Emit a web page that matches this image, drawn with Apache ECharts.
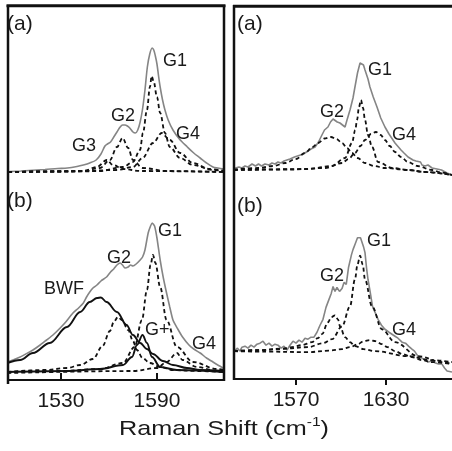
<!DOCTYPE html>
<html><head><meta charset="utf-8">
<script src="https://cdn.jsdelivr.net/npm/echarts@6/dist/echarts.min.js"></script>
<style>html,body{margin:0;padding:0;background:#fff}#c{width:452px;height:451px}</style>
</head><body><div id="c"></div>
<script>
// ---------- tick labels ----------
var leftTicks = [1530, 1590];
var rightTicks = [1570, 1630];
var axisTitle = 'Raman Shift (cm';

// ---------- Left panel (a) ----------
var La_meas = [[1498,0.5],[1505,1],[1510,1.5],[1515,2],[1520,2.5],[1528,3.5],[1534,4],[1540,5.5],[1544,7],[1548,9],[1552,12],[1555,18],[1557.5,26],[1559,28],[1561,30],[1563,35],[1565,40],[1567,45],[1568.5,47],[1570,47],[1571.5,46],[1573,44],[1575,40],[1576.5,39],[1578,42],[1579.5,50],[1581,63],[1582.5,82],[1584,105],[1585.5,118],[1587,124],[1588,122],[1589,116],[1590,108],[1591,96],[1592,85],[1593.5,72],[1595,62],[1597,52],[1600,42],[1604,33],[1609,25],[1613,19],[1617,14],[1621,9],[1625,5],[1628,4],[1632,3]];
var La_G1 = [[1497,0],[1540,0.5],[1554.4,1],[1568.75,5],[1575,10],[1579.4,22],[1581.25,39],[1583.75,62],[1585.6,85],[1586.7,96],[1588,90],[1590,75],[1592,59],[1595,39],[1598,25],[1604.5,14],[1612.5,7],[1625,2],[1632,1]];
var La_G2 = [[1497,0],[1530,0.5],[1543.75,1],[1554.4,4],[1560.6,12],[1565,25],[1568.5,34],[1572,24],[1575,12],[1581,4],[1596,1],[1632,0]];
var La_G3 = [[1497,0],[1530,0.5],[1543.75,1],[1552.5,5],[1558.7,12],[1562.5,7],[1568.75,3],[1580,1],[1632,0]];
var La_G4 = [[1497,0],[1540,1],[1565,2],[1575,5],[1581,14],[1587.5,29],[1593,39],[1598,32],[1604.5,19],[1612.5,9],[1623,3],[1632,1]];

// ---------- Left panel (b) ----------
var Lb_meas = [[1496.5,11],[1500,13],[1504.5,16],[1508,19],[1512.5,23],[1517,28],[1521,33],[1525,38],[1529.5,45],[1533,51],[1537.5,60],[1541,65],[1544,70],[1546,76],[1548,81],[1550,85],[1552.5,88],[1555,92],[1558.5,96],[1561,101],[1563,104],[1565,108],[1567,110],[1568.5,108],[1570,105],[1572,106],[1573.5,108],[1575,107],[1577,109],[1579.5,113],[1581,116],[1582.5,123],[1584.5,140],[1586,147],[1587,150],[1588.5,147],[1590,135],[1592,113],[1594,95],[1596,80],[1598,66],[1600,53],[1603,44],[1606,36],[1610,28],[1613,24],[1617,20],[1621,15],[1625,11],[1628,8],[1631.5,5]];
var Lb_BWF = [[1496.5,10],[1504.5,13],[1512.5,20],[1523,30],[1533.75,46],[1542,61],[1548,71],[1552.5,75],[1555,75.5],[1558.5,71],[1565,61],[1571,48],[1575,38],[1579.5,30],[1583.75,24],[1587.5,19],[1593.75,12],[1600,8],[1608.75,5],[1617,3],[1631.5,2]];
var Lb_G2 = [[1496.5,1],[1520,3],[1534,5],[1542,8],[1550,14],[1556,27],[1560.6,42],[1563,51],[1565.6,56],[1568,53],[1572,43],[1575,32],[1577.5,23],[1581,15],[1585.6,10],[1592,6],[1600,3],[1615,2],[1631.5,1]];
var Lb_G1 = [[1496.5,1],[1530,2],[1554.4,4],[1568.75,10],[1576,26],[1580.6,53],[1583.75,83],[1586,108],[1587.5,118],[1589,110],[1592,86],[1596,53],[1602.5,26],[1612.5,11],[1627.5,4],[1631.5,3]];
var Lb_Gplus = [[1496.5,1],[1533.75,2],[1554.4,4],[1568.75,8],[1574.4,16],[1577.5,28],[1581,38],[1583.75,30],[1586.9,16],[1592,6],[1602.5,3],[1631.5,1]];
var Lb_G4 = [[1496.5,0],[1575,2],[1590,5],[1596,11],[1602.5,20],[1606,13],[1615,6],[1627.5,2],[1631.5,1]];

// ---------- Right panel (a) ----------
var Ra_meas = [[1529.5,2],[1532,3],[1534,2],[1536,4],[1538,3],[1540.7,6],[1543,4],[1545,6],[1547,4],[1549.3,6],[1552,5],[1554,7],[1556,6],[1558,8],[1560,7],[1562,9],[1564,10],[1566,11],[1567.3,12],[1569,13],[1571,14],[1573,15],[1576,17],[1578,19],[1580,21],[1582.7,23],[1585,28],[1587.3,35],[1589,40],[1591.3,43],[1593,48],[1594.7,51],[1596,50],[1597.5,48],[1599.3,47],[1601,45],[1602.7,43],[1604,50],[1606,60],[1608,72],[1609.3,83],[1611,97],[1612.7,107],[1614,109],[1615,105],[1616,100],[1618,91],[1619.3,83],[1621.5,73],[1624,63],[1626.5,52],[1629.3,43],[1632,36],[1636,27],[1640,20],[1642,17],[1644.7,13],[1646,14],[1648,10],[1650,9],[1651.3,7],[1653,8],[1654,5],[1656,4],[1658,5],[1660.7,2],[1664,1],[1667,0],[1670.7,-3],[1674,-5]];
var Ra_G2 = [[1528.7,0.5],[1544.7,2],[1555,4],[1562.7,7],[1570,11],[1576,17],[1581,23],[1584.7,27],[1589,31.5],[1593.3,33],[1597,31],[1600.7,27],[1604,22],[1607.3,17],[1611,12],[1616,7],[1622,4],[1629.3,2],[1645,0],[1656,-2],[1674,-5]];
var Ra_G1 = [[1528.7,0],[1578,1],[1594,4],[1602.7,12],[1607.3,27],[1609.5,40],[1610.7,50],[1612,63],[1613.3,70],[1614.7,62],[1616,50],[1618,35],[1620.7,23],[1624.7,8],[1634,2],[1645,0],[1656,-2],[1674,-5]];
var Ra_G4 = [[1528.7,0],[1567.3,0.5],[1589.3,2],[1600.7,7],[1605,11],[1609.3,17],[1613,24],[1616,30],[1620,36],[1623.3,38],[1626.5,35],[1629.3,30],[1632.5,24],[1636,18],[1640,13],[1644.7,8],[1651,4],[1660.7,0],[1667,-2.5],[1674,-5]];

// ---------- Right panel (b) ----------
var Rb_meas = [[1529.5,29],[1531,31],[1532.5,28],[1534,32],[1536,33],[1538,31],[1540,34],[1542,32],[1544,35],[1546,36],[1548,38],[1550,34],[1552,36],[1554,33],[1556,35],[1558,34],[1560,31],[1562,33],[1564,29],[1566,34],[1568,38],[1570,36],[1572,39],[1574,37],[1576,41],[1578,40],[1580,42],[1582,42],[1584,47],[1586,54],[1588,60],[1590,72],[1592,80],[1593.5,86],[1594.7,93],[1596,88],[1597.3,92],[1599,88],[1600.7,91],[1602,97],[1603.5,95],[1605,112],[1607,125],[1608,130],[1609.5,136],[1611,142],[1612,141],[1613,142],[1614,141],[1615,133],[1616,127],[1617,112],[1618,100],[1619.5,87],[1621,73],[1623,66],[1624.7,60],[1627,54],[1629.3,50],[1632,47],[1634,45],[1636,43],[1638,41],[1640.7,37],[1643,36],[1645,33],[1647.3,30],[1649,28],[1651.3,23],[1654,21],[1656,19],[1658,17],[1660.7,18],[1663,16],[1665,15],[1667.3,15],[1669,11],[1670.7,8],[1672,9],[1674,7]];
var Rb_G1 = [[1528.7,28],[1544.7,29],[1562,30.5],[1578,32],[1588,36],[1594,40],[1600.7,53],[1606,73],[1609.3,100],[1611,115],[1612.7,124],[1614.5,115],[1616,100],[1620.7,73],[1627.3,50],[1636,37],[1651.3,23],[1667.3,17],[1674,15]];
var Rb_G2 = [[1528.7,28],[1544.7,29],[1560,30],[1567.3,32],[1574,34],[1580.7,37],[1584.5,41],[1587.3,45],[1591.3,57],[1593.5,62],[1596,64],[1598,60],[1599.3,53],[1602.7,42],[1606,37],[1609.3,33],[1615,30],[1622.7,28],[1644.7,23],[1660,19],[1674,17]];
var Rb_G4 = [[1528.7,28],[1550,27.5],[1578,27],[1592,28.5],[1600.7,30],[1606,32],[1611.3,35],[1615,38],[1619.3,39],[1623,38],[1627.3,35],[1631,32],[1636,28],[1641,25],[1647.3,22],[1654,19],[1660.7,17],[1674,15]];

// ---------- build ----------
var chart = echarts.init(document.getElementById('c'), null, {renderer:'canvas'});
var GRAY = '#858585', INK = '#111';
var FONT = 'Liberation Sans, Arial, sans-serif';
function meas(data, idx, smooth){
  return {type:'line', xAxisIndex:idx, yAxisIndex:idx, data:data, showSymbol:false, smooth:smooth,
    lineStyle:{color:GRAY, width:1.6}, z:2, silent:true};
}
function dash(data, idx){
  return {type:'line', xAxisIndex:idx, yAxisIndex:idx, data:data, showSymbol:false, smooth:0.35, smoothMonotone:'x',
    lineStyle:{color:INK, width:1.8, type:[4,3]}, z:3, silent:true};
}
function solid(data, idx){
  return {type:'line', xAxisIndex:idx, yAxisIndex:idx, data:data, showSymbol:false, smooth:0.35, smoothMonotone:'x',
    lineStyle:{color:INK, width:1.9}, z:3, silent:true};
}
function xAx(idx, min, max, ticks, show){
  return {type:'value', gridIndex:idx, min:min, max:max, show:true,
    axisLine:{show:false},
    axisTick:{show:show, customValues:ticks, length:6, inside:false, lineStyle:{color:INK, width:2}},
    axisLabel:{show:show, customValues:ticks, margin:11, fontSize:21, color:'#1a1a1a', fontFamily:FONT,
      formatter:function(v){ return String(v); }},
    splitLine:{show:false}};
}
function yAx(idx, min, max){
  return {type:'value', gridIndex:idx, min:min, max:max, show:false, splitLine:{show:false}};
}
var LX0 = 1496.9, LX1 = 1631.9, RX0 = 1528.67, RX1 = 1674;

function lbl(text, x, cy, size){
  return {type:'text', x:x, y:cy, z:50, style:{text:text, fontSize:size||18, fontFamily:FONT, fill:'#1a1a1a', textAlign:'left', textVerticalAlign:'middle'}};
}
function hline(x1,x2,y,w){ return {type:'line', z:40, shape:{x1:x1,y1:y,x2:x2,y2:y}, style:{stroke:INK, lineWidth:w}}; }
function vline(x,y1,y2,w){ return {type:'line', z:40, shape:{x1:x,y1:y1,x2:x,y2:y2}, style:{stroke:INK, lineWidth:w}}; }

var option = {
  animation:false,
  backgroundColor:'#fff',
  grid:[
    {left:8, top:6, width:216, height:167},
    {left:8, top:173, width:216, height:207},
    {left:234, top:6, width:218, height:169},
    {left:234, top:175, width:218, height:204}
  ],
  xAxis:[
    xAx(0, LX0, LX1, leftTicks, false),
    xAx(1, LX0, LX1, leftTicks, true),
    xAx(2, RX0, RX1, rightTicks, false),
    xAx(3, RX0, RX1, rightTicks, true)
  ],
  yAxis:[ yAx(0,-1,166), yAx(1,-7,200), yAx(2,-5,164), yAx(3,0,205) ],
  series:[
    meas(La_meas,0,0.3), dash(La_G1,0), dash(La_G2,0), dash(La_G3,0), dash(La_G4,0),
    meas(Lb_meas,1,0.2), solid(Lb_BWF,1), dash(Lb_G2,1), dash(Lb_G1,1), solid(Lb_Gplus,1), dash(Lb_G4,1),
    meas(Ra_meas,2,false), dash(Ra_G2,2), dash(Ra_G1,2), dash(Ra_G4,2),
    meas(Rb_meas,3,false), dash(Rb_G1,3), dash(Rb_G2,3), dash(Rb_G4,3)
  ],
  graphic:[
    hline(6.5,225.5,5.8,3), vline(8,5,384,2.5), vline(224,5,381,2.5), hline(8,225,380,2),
    hline(233,452,6.3,3), vline(234,5,380,2.5), hline(234,452,379,2),
    lbl('(a)',7,24,21), lbl('G1',163,61), lbl('G2',111,116), lbl('G3',72,146), lbl('G4',176,134),
    lbl('(b)',7,201,21), lbl('G1',158,231), lbl('G2',107,258), lbl('BWF',44,289), lbl('G+',145,330), lbl('G4',192,344),
    lbl('(a)',237,24,21), lbl('G1',368,70), lbl('G2',320,112), lbl('G4',392,135),
    lbl('(b)',237,206,21), lbl('G1',367,241), lbl('G2',320,276), lbl('G4',392,330),
    {type:'text', x:224, y:428, scaleX:1.2, z:50,
     style:{text:'{m|' + axisTitle + '}{s|-1}{m|)}', fontSize:21, fontFamily:FONT, fill:'#1a1a1a',
       textAlign:'center', textVerticalAlign:'middle',
       rich:{
         m:{fontSize:21, lineHeight:24, verticalAlign:'bottom', fontFamily:FONT, fill:'#1a1a1a'},
         s:{fontSize:13, lineHeight:24, verticalAlign:'top', fontFamily:FONT, fill:'#1a1a1a'}
       }}}
  ]
};
chart.setOption(option);
</script>
</body></html>
